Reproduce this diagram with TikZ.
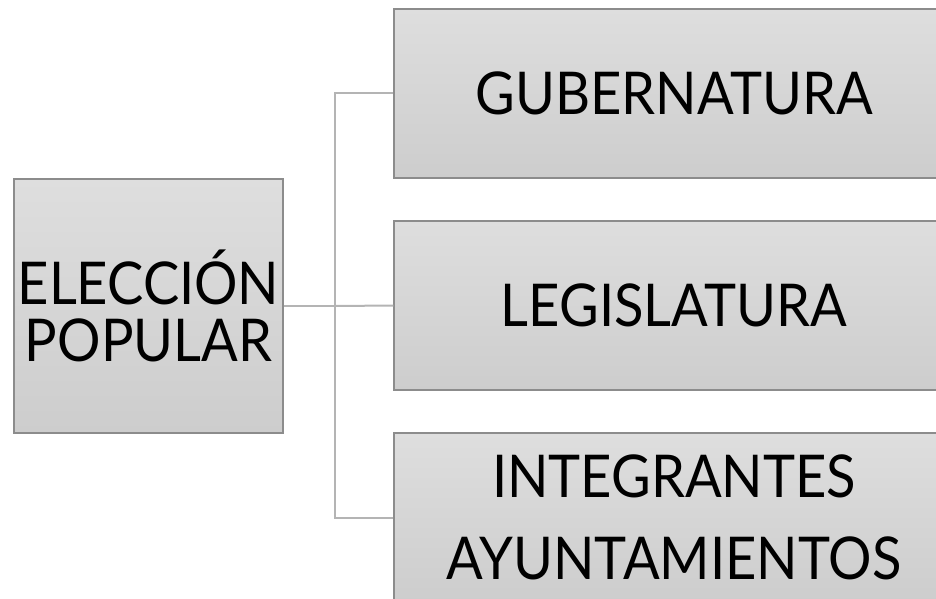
\documentclass[tikz,border=0pt]{standalone}
\usepackage{fontspec}
\setmainfont{Lato}[FakeStretch=0.92]
\definecolor{borde}{HTML}{8C8C8C}
\definecolor{linea}{HTML}{B4B4B4}
\definecolor{claro}{HTML}{DEDEDE}
\definecolor{oscuro}{HTML}{CDCDCD}

\begin{document}
\begin{tikzpicture}[x=1pt,y=-1pt]
\tikzstyle{caja}=[rectangle,draw=borde,line width=1.2pt,top color=claro,bottom color=oscuro,inner sep=0pt,align=center,font=\fontsize{59}{57}\selectfont]
\tikzstyle{rama}=[draw=linea,line width=2pt]
\path[use as bounding box,clip] (0,0) rectangle (936,599);

\node[caja,text width=269pt,minimum height=254pt](E) at (148.5,306) {ELECCIÓN\\POPULAR};
\node[caja,minimum width=560pt,minimum height=169pt](G) at (674,93.5) {GUBERNATURA};
\node[caja,minimum width=560pt,minimum height=169pt](L) at (674,305.5) {LEGISLATURA};
\node[caja,minimum width=560pt,minimum height=169pt](I) at (674,517.5) {INTEGRANTES\\[25pt]AYUNTAMIENTOS};

\coordinate (F) at (335,306);
\draw[rama] (E.east) -- (F);
\draw[rama] (F) |- (G.west);
\draw[rama] (F) -- (L.west);
\draw[rama] (F) |- (I.west);
\end{tikzpicture}
\end{document}
